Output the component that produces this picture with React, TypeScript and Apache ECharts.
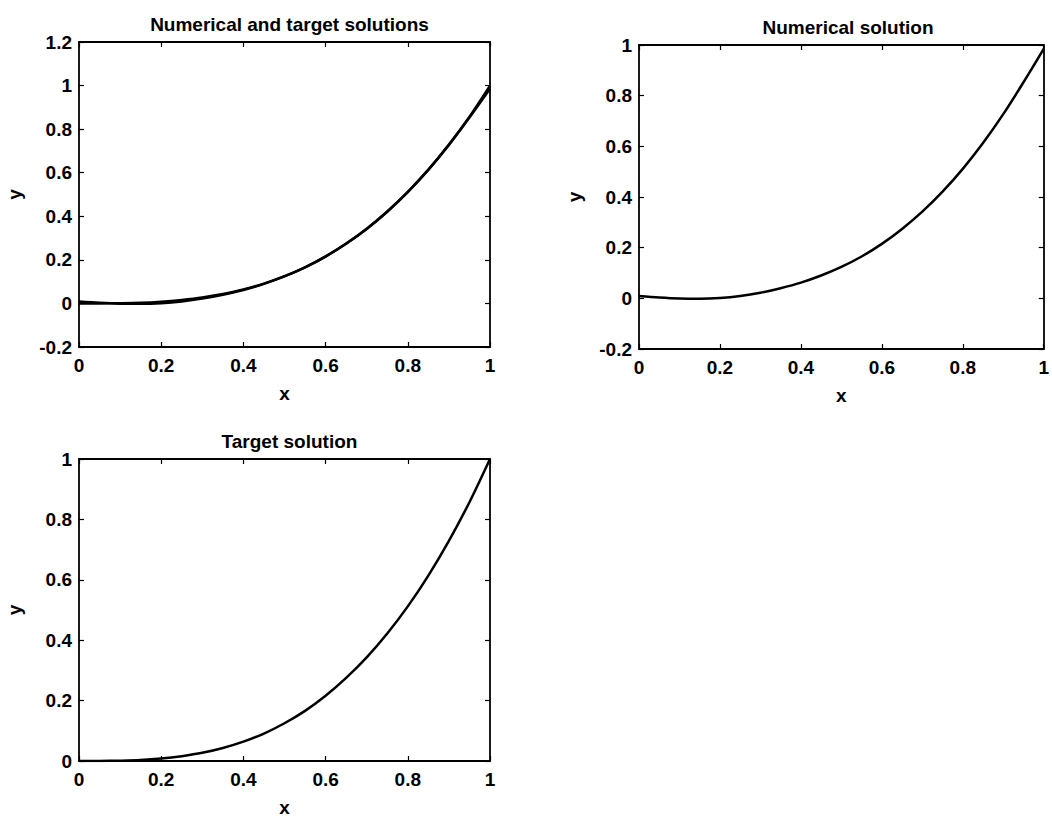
import React, { useEffect, useRef } from "react";
import * as echarts from "echarts";

// x sample positions
const xs = [0, 0.05, 0.1, 0.15, 0.2, 0.25, 0.3, 0.35, 0.4, 0.45, 0.5, 0.55, 0.6, 0.65, 0.7, 0.75, 0.8, 0.85, 0.9, 0.95, 1];
// numerical solution
const numericalY = [0.009, 0.003, -0.001, -0.002, 0.001, 0.009, 0.022, 0.04, 0.062, 0.09, 0.124, 0.165, 0.215, 0.274, 0.342, 0.421, 0.511, 0.613, 0.727, 0.853, 0.985];
// target solution
const targetY = [0, 0.0001, 0.001, 0.003, 0.008, 0.016, 0.027, 0.043, 0.064, 0.091, 0.125, 0.166, 0.216, 0.275, 0.343, 0.422, 0.512, 0.614, 0.729, 0.857, 1.0];

const titles = ["Numerical and target solutions", "Numerical solution", "Target solution"];
const xRange = { min: 0, max: 1, interval: 0.2 };
const yRanges = [
  { min: -0.2, max: 1.2, interval: 0.2 },
  { min: -0.2, max: 1, interval: 0.2 },
  { min: 0, max: 1, interval: 0.2 },
];

const grids = [
  { left: 79, top: 42, width: 411, height: 305 },
  { left: 639, top: 45, width: 408, height: 304 },
  { left: 79, top: 459, width: 411, height: 302 },
];

const FONT = "'Liberation Sans', Arial, Helvetica, sans-serif";
const FS = 19;
const FW = "bold";

export default function App() {
  const ref = useRef<HTMLDivElement>(null);
  useEffect(() => {
    document.body.style.margin = "0";
    if (!ref.current) return;
    const chart = echarts.init(ref.current, undefined, { renderer: "svg" });
    const lineStyle = { color: "#000", width: 1.8 };
    const tickStyle = { color: "#000", width: 1.2 };
    const txt = { fontFamily: FONT, fontSize: FS, fontWeight: FW, color: "#000" };
    const xAxis: any[] = [];
    const yAxis: any[] = [];
    grids.forEach((g, i) => {
      xAxis.push({
        type: "value", gridIndex: i, position: "bottom", ...xRange,
        name: "x", nameLocation: "middle", nameGap: 37,
        nameTextStyle: txt,
        axisLine: { onZero: false, lineStyle },
        axisTick: { inside: true, length: 5, lineStyle: tickStyle },
        axisLabel: { ...txt, margin: 9 },
        splitLine: { show: false },
      });
      xAxis.push({
        type: "value", gridIndex: i, position: "top", ...xRange,
        axisLine: { onZero: false, lineStyle },
        axisTick: { inside: true, length: 5, lineStyle: tickStyle },
        axisLabel: { show: false },
        splitLine: { show: false },
      });
      yAxis.push({
        type: "value", gridIndex: i, position: "left", ...yRanges[i],
        name: "y", nameLocation: "middle", nameGap: 55, nameRotate: 90,
        nameTextStyle: txt,
        axisLine: { onZero: false, lineStyle },
        axisTick: { inside: true, length: 5, lineStyle: tickStyle },
        axisLabel: { ...txt, margin: 7 },
        splitLine: { show: false },
      });
      yAxis.push({
        type: "value", gridIndex: i, position: "right", ...yRanges[i],
        axisLine: { onZero: false, lineStyle },
        axisTick: { inside: true, length: 5, lineStyle: tickStyle },
        axisLabel: { show: false },
        splitLine: { show: false },
      });
    });
    const pairs = (ys: number[]) => xs.map((x, k) => [x, ys[k]]);
    const mk = (i: number, ys: number[]) => ({
      type: "line", xAxisIndex: i * 2, yAxisIndex: i * 2, data: pairs(ys),
      smooth: 0.3, showSymbol: false, symbol: "none",
      lineStyle: { color: "#000", width: 2.5 },
    });
    chart.setOption({
      animation: false,
      backgroundColor: "#fff",
      title: grids.map((g, i) => ({
        text: titles[i],
        left: g.left + g.width / 2,
        top: g.top - 32,
        textAlign: "center",
        textStyle: txt,
      })),
      grid: grids,
      xAxis, yAxis,
      series: [mk(0, targetY), mk(0, numericalY), mk(1, numericalY), mk(2, targetY)],
    });
    return () => chart.dispose();
  }, []);
  return <div ref={ref} style={{ width: 1052, height: 818 }} />;
}
